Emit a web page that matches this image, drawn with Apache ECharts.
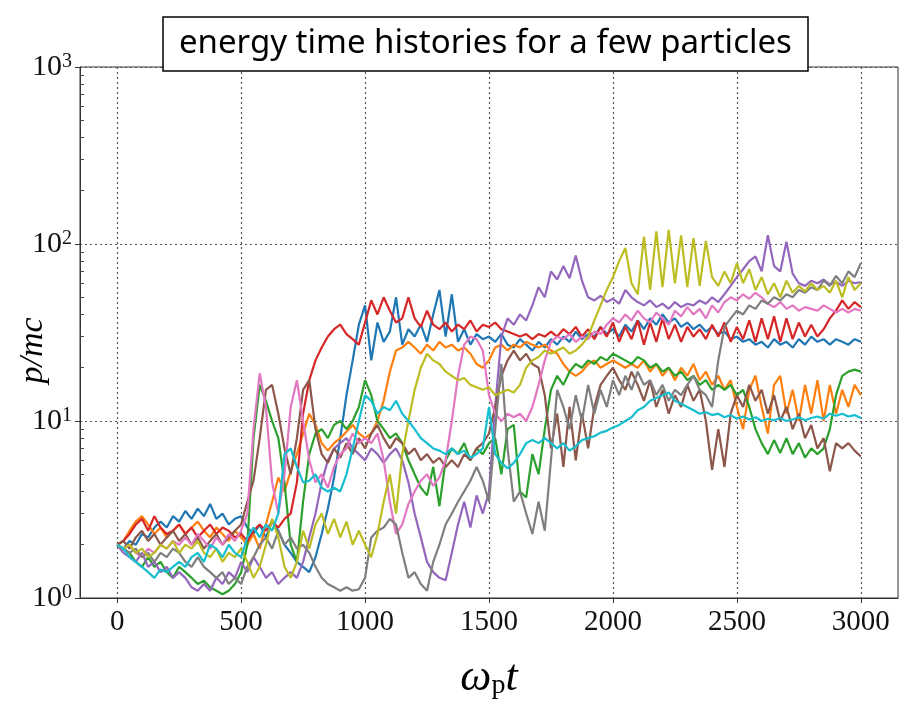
<!DOCTYPE html>
<html><head><meta charset="utf-8">
<script src="https://cdn.jsdelivr.net/npm/echarts@6/dist/echarts.min.js"></script>
<style>html,body{margin:0;padding:0;background:#fff}#c{width:902px;height:722px}</style>
</head><body><div id="c"></div>
<script>
var times = [0,25,50,75,100,125,150,175,200,225,250,275,300,325,350,375,400,425,450,475,500,525,550,575,600,625,650,675,700,725,750,775,800,825,850,875,900,925,950,975,1000,1025,1050,1075,1100,1125,1150,1175,1200,1225,1250,1275,1300,1325,1350,1375,1400,1425,1450,1475,1500,1525,1550,1575,1600,1625,1650,1675,1700,1725,1750,1775,1800,1825,1850,1875,1900,1925,1950,1975,2000,2025,2050,2075,2100,2125,2150,2175,2200,2225,2250,2275,2300,2325,2350,2375,2400,2425,2450,2475,2500,2525,2550,2575,2600,2625,2650,2675,2700,2725,2750,2775,2800,2825,2850,2875,2900,2925,2950,2975,3000];

var blue = [2.0,1.9,2.1,2.0,2.3,2.2,2.5,2.7,2.5,2.9, 2.7,3.1,2.8,3.2,2.9,3.4,2.8,3.0,2.6,2.8, 2.9,2.5,2.3,2.6,2.2,2.7,2.4,2.0,1.8,1.6, 1.5,1.4,1.7,2.3,3.2,4.8,8,14,22,35, 45,22,36,28,32,50,27,33,30,35, 28,40,55,30,52,28,33,27,31,29, 30,28,31,27,26,29,27,25,28,26, 29,27,30,28,32,29,31,30,34,31, 33,30,35,32,37,33,38,35,40,36, 38,34,36,33,35,32,34,31,32,29, 30,28,29,27,28,26,29,27,28,26, 29,27,30,28,29,27,29,28,27,29, 28];
var orange = [2.0,2.1,2.4,2.7,2.9,2.6,2.3,2.5,2.2,2.4, 2.6,2.3,2.5,2.7,2.4,2.2,2.5,2.3,2.1,2.4, 2.2,2.0,2.3,1.9,2.6,3.5,4.8,4.0,5.2,6.5, 8.5,11,9.5,7.5,6.8,7.5,8.0,8.7,9.5,8.5, 8.0,8.5,10,13,19,25,26,28,26,24, 27,25,28,26,27,25,26,24,21,20, 22,26,27,25,27,26,28,27,26,27, 25,24,21,19,18,19,21,22,20,21, 22,21,20,21,20,22,19,21,18,20, 17,20,18,21,17,19,16,18,15,17, 12,9,15,18,12,8.5,16,18,11,15, 10,16,11,17,10,16,11,15,12,16, 14];
var green = [2.0,1.9,1.8,1.6,1.5,1.7,1.5,1.6,1.4,1.3, 1.5,1.4,1.3,1.2,1.25,1.15,1.1,1.05,1.1,1.2, 1.4,2.0,8.0,16,13,10,8,4.5,2.0,1.6, 3.5,6.5,8.5,9.0,8.0,9.5,10,9.0,10,12, 17,14,10,9.0,8.0,8.5,7.5,6.0,5.0,4.2, 3.8,5.5,3.3,6.0,7.0,6.5,7.5,6.0,7.0,6.5, 7.5,8.0,5.0,9.0,9.5,4.0,3.7,6.5,5.0,9.0, 15,18,16,19,21,20,22,21,23,22, 24,23,22,21,23,22,20,21,19,20, 18,19,17,18,16,17,15,16,15,16, 14,15,12,9,7.5,6.5,7.8,6.6,8.0,6.5, 7.5,6.2,7.0,6.5,7.0,9.0,14,18,19,19.5, 19];
var red = [2.0,2.1,2.3,2.6,2.8,2.4,2.9,2.5,2.3,2.4, 2.6,2.3,2.5,2.2,2.4,2.6,2.3,2.5,2.4,2.2, 2.3,2.1,2.4,2.6,2.4,2.7,2.5,2.8,3.0,4.5, 11,17,22,26,30,33,35,31,29,27, 36,48,40,50,42,36,38,50,38,34, 42,35,33,36,32,35,33,37,32,35, 34,36,33,32,31,30,31,29,31,30, 32,30,33,31,34,30,33,29,34,30, 36,28,34,29,37,27,36,28,38,29, 35,28,34,30,33,29,35,30,36,28, 34,29,37,28,38,29,39,28,38,29, 36,30,35,30,33,38,42,48,43,47, 44];
var purple = [2.0,1.8,1.7,1.6,1.8,1.5,1.6,1.4,1.5,1.3, 1.4,1.3,1.15,1.1,1.2,1.1,1.3,1.2,1.4,1.3, 1.6,1.4,1.7,1.5,1.3,1.4,1.2,1.3,1.4,1.3, 1.6,2.2,3.0,4.5,6.0,7.0,7.5,8.0,7.0,6.5, 6.0,7.0,6.5,5.8,6.5,7.0,6.0,4.5,3.0,2.2, 1.6,1.4,1.3,1.26,1.8,2.6,3.5,2.5,3.8,3.0, 4.0,12,30,38,35,40,37,45,57,50, 70,63,75,64,86,62,50,48,51,47, 49,46,55,50,47,45,48,44,46,43, 47,44,46,45,48,46,50,47,52,58, 65,72,80,85,70,112,75,70,103,68, 60,58,62,60,63,59,61,58,62,60, 61];
var brown = [2.0,2.1,1.9,2.2,2.4,2.1,2.3,2.0,2.2,2.4, 2.1,2.3,2.0,2.2,1.9,2.1,2.3,2.0,2.2,2.4, 2.6,3.5,4.6,8,15,16,11,7,5,8, 15,17,9,6.5,5.8,7.0,6.2,7.5,6.5,8.0, 7.0,8.5,9.5,8.0,7.0,8.0,7.5,6.5,7.0,6.0, 6.5,5.8,6.2,5.5,6.0,5.5,6.5,6.0,7.0,7.5, 8.5,12,18,22,25,22,24,21,20,14, 7,11,5.5,12,6,11,7,12,16,18, 20,17,15,19,16,13,17,12,15,11, 14,12,16,13,15,10,5.3,9,5.5,11, 14,12,16,13,15,11,14,10,12,9, 11,8,9.5,7,8,5.2,7.5,7,7.5,6.8, 6.3];
var pink = [2.0,1.9,2.0,1.8,1.7,1.9,1.8,2.0,1.9,2.1, 2.0,2.2,2.0,2.3,2.1,1.9,2.2,2.0,2.3,2.1, 2.4,3.0,9.0,18.6,12,4.5,3.0,5.0,12,17, 10,6.0,4.5,5.0,4.2,5.5,6.5,7.0,8.5,7.5, 8.0,7.5,8.5,6.0,3.5,2.3,2.6,3.4,4.0,4.6, 5.0,4.3,4.8,6.0,10,18,27,30,29,25, 14,11,10,11,10.5,11,10,12,16,22, 28,30,29,31,28,30,29,32,31,35, 38,36,40,37,42,38,36,41,38,35, 42,39,44,40,43,38,45,41,47,50, 48,52,49,53,50,46,44,47,43,45, 42,44,43,42,45,43,41,43,41,43, 42];
var gray = [2.0,1.9,1.8,1.9,1.7,1.8,1.6,1.8,1.7,1.9, 1.8,1.6,1.5,1.7,1.5,1.4,1.3,1.4,1.2,1.3, 1.2,1.5,1.7,2.0,2.2,1.9,2.4,2.0,2.2,1.9, 2.0,1.8,1.5,1.3,1.2,1.15,1.1,1.15,1.1,1.12, 1.3,2.2,2.4,2.5,2.8,2.6,1.8,1.3,1.4,1.2, 1.1,1.6,2.0,2.6,3.0,3.5,4.0,4.6,5.5,4.6, 3.5,9,21,7,3.5,4.0,3.0,2.3,3.5,2.4, 6,15,12,9,14,10,16,11,15,12, 17,14,18,15,19,16,17,14,16,13, 15,14,16,18,15,14,12,22,34,38, 42,40,45,43,48,46,50,48,52,50, 55,53,57,55,62,58,66,60,70,65, 78];
var olive = [2.0,1.9,2.0,1.8,1.9,1.7,1.8,2.0,1.9,2.1, 1.8,2.0,1.9,2.1,1.8,1.7,1.9,1.6,1.8,1.7, 1.9,1.6,1.3,1.5,2.0,2.8,2.2,1.5,1.3,1.6, 2.4,1.9,2.6,3.0,2.3,2.8,2.2,2.7,2.0,2.4, 2.0,1.7,2.3,3.5,5.0,3.0,6.5,10,15,20, 24,22,21,19,18,17,17.5,16,15.5,15, 15.5,14,14.5,15,14.5,16,20,22,23,25, 24,25,26,24,25,27,30,37,45,55, 65,80,95,60,52,110,55,118,57,120, 60,112,57,108,58,104,65,58,70,60, 78,60,72,55,65,52,60,50,62,53, 58,54,60,55,58,53,62,50,65,55, 60];
var cyan = [2.0,1.9,1.7,1.6,1.5,1.4,1.3,1.45,1.4,1.5, 1.6,1.5,1.7,1.8,1.6,2.0,1.9,1.7,2.0,1.8, 1.7,2.2,2.5,2.2,2.6,2.4,3.0,6.5,7.0,5.5, 4.5,4.6,5.0,4.2,4.0,4.2,4.0,5.0,7.0,10, 14,13,11,12,11.5,13,11,10,9.0,8.0, 7.5,7.0,6.8,6.5,7.0,6.5,6.8,6.2,6.5,7.0, 12,6.5,5.8,5.4,5.8,6.5,7.5,7.8,7.5,8.0, 7.5,7.0,7.5,6.8,7.2,7.8,8.0,8.2,8.6,8.8, 9.2,9.5,10,10.5,11.5,12,13,13.5,14,14.5, 13,12.5,12,11.5,11,11.2,10.8,11,10.5,10.8, 10.3,10.6,10.2,10.5,10,10.3,10.1,10.4,10,10.2, 10.5,10.1,10.4,10.6,10.3,11,10.7,11,10.6,10.8, 10.4];

var xTicks = [0,500,1000,1500,2000,2500,3000];
var yMinorTicks = [2,3,4,5,6,7,8,9,20,30,40,50,60,70,80,90,200,300,400,500,600,700,800,900];
var titleText = 'energy time histories for a few particles';

var seriesList = [
  ['blue', blue, '#1f77b4'], ['orange', orange, '#ff7f0e'], ['green', green, '#2ca02c'],
  ['red', red, '#d62728'], ['purple', purple, '#9467bd'], ['brown', brown, '#8c564b'],
  ['pink', pink, '#e377c2'], ['gray', gray, '#7f7f7f'], ['olive', olive, '#bcbd22'],
  ['cyan', cyan, '#17becf']
];

var serif = '"Liberation Serif", "DejaVu Serif", serif';
var chart = echarts.init(document.getElementById('c'), null, {renderer: 'canvas'});
chart.setOption({
  animation: false,
  backgroundColor: '#fff',
  title: {
    text: titleText, left: 163, top: 17, padding: [9, 16, 9, 16],
    borderColor: '#000', borderWidth: 1.5, backgroundColor: '#fff', z: 10,
    textStyle: {fontFamily: 'Noto Sans', fontSize: 33, lineHeight: 36, fontWeight: 'normal', color: '#000'}
  },
  grid: {left: 80, right: 4, top: 67, bottom: 124, show: true, borderColor: '#333', borderWidth: 1, outerBoundsMode: 'none', containLabel: false},
  xAxis: {
    type: 'value', min: -150, max: 3150,
    axisLine: {show: true, onZero: false, lineStyle: {color: '#333', width: 1}},
    axisTick: {show: true, inside: false, length: 5, customValues: xTicks, lineStyle: {color: '#333'}},
    axisLabel: {
      customValues: xTicks, margin: 10,
      formatter: function (v) { return '{a|' + v + '}'; },
      rich: {a: {fontFamily: serif, fontSize: 29, color: '#111'}}
    },
    splitLine: {show: true, lineStyle: {type: [2, 3], color: '#555', width: 1.2}},
    name: '{w|ω}{p|p}{t|t}', nameLocation: 'middle', nameGap: 58, nameMoveOverlap: false,
    nameTextStyle: {rich: {
      w: {fontFamily: serif, fontStyle: 'italic', fontSize: 44, color: '#000', lineHeight: 44},
      p: {fontFamily: serif, fontSize: 28, color: '#000', verticalAlign: 'bottom', lineHeight: 30},
      t: {fontFamily: serif, fontStyle: 'italic', fontSize: 44, color: '#000', lineHeight: 44}
    }}
  },
  yAxis: [{
    type: 'log', logBase: 10, min: 1, max: 1000,
    axisLine: {show: true, onZero: false, lineStyle: {color: '#333', width: 1}},
    axisTick: {show: true, inside: false, length: 5, lineStyle: {color: '#333'}},
    axisLabel: {
      margin: 8, color: '#111',
      formatter: function (v) { return '{b|10}{s|' + Math.round(Math.log10(v)) + '}'; },
      rich: {
        b: {fontFamily: serif, fontSize: 30, color: '#111', lineHeight: 30},
        s: {fontFamily: serif, fontSize: 20, color: '#111', verticalAlign: 'top', lineHeight: 18}
      }
    },
    splitLine: {show: true, lineStyle: {type: [2, 3], color: '#555', width: 1.2}},
    name: 'p/mc', nameLocation: 'middle', nameGap: 30, nameRotate: 90, nameMoveOverlap: false,
    nameTextStyle: {fontFamily: serif, fontStyle: 'italic', fontSize: 34, color: '#000', padding: [0, 36, 0, 0]}
  }, {
    type: 'log', logBase: 10, min: 1, max: 1000, position: 'left',
    axisLine: {show: false, onZero: false},
    axisTick: {show: true, inside: true, length: 4, customValues: yMinorTicks, lineStyle: {color: '#444'}},
    axisLabel: {show: false},
    splitLine: {show: false}
  }],
  series: seriesList.map(function (s) {
    return {
      name: s[0], type: 'line', symbol: 'none', silent: true,
      lineStyle: {color: s[2], width: 2.2}, itemStyle: {color: s[2]},
      data: times.map(function (t, i) { return [t, s[1][i]]; })
    };
  })
});
</script>
</body></html>
